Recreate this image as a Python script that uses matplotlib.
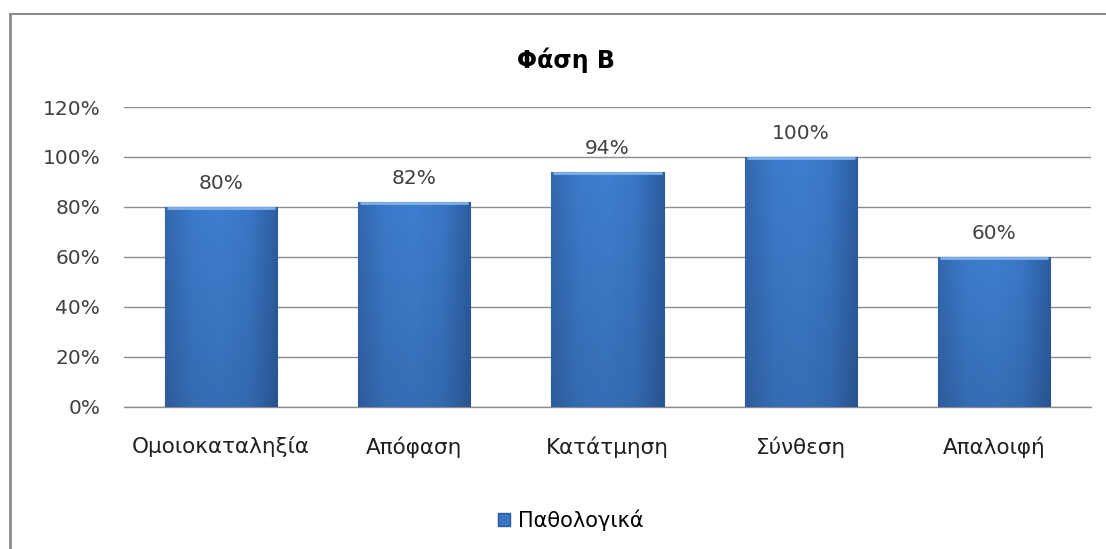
import matplotlib.pyplot as plt
import numpy as np
from matplotlib.colors import LinearSegmentedColormap
from matplotlib.lines import Line2D
from matplotlib.patches import Patch

categories = ['Ομοιοκαταληξία', 'Απόφαση', 'Κατάτμηση', 'Σύνθεση', 'Απαλοιφή']
values = [80, 82, 94, 100, 60]
series_name = 'Παθολογικά'
yticks = [0, 20, 40, 60, 80, 100, 120]

plt.rcParams['font.family'] = ['DejaVu Sans']

fig = plt.figure(figsize=(11.06, 5.49), dpi=100)
ax = fig.add_axes([0.1121, 0.2587, 0.8743, 0.5464])

x = np.arange(len(categories))
bars = ax.bar(x, values, width=0.58, color='#3A76C4', edgecolor='#2B5A96',
              linewidth=0.8, zorder=3, label=series_name)

# soft horizontal shading inside each bar
cmap = LinearSegmentedColormap.from_list(
    'bar', ['#3468AE', '#3C7BCB', '#3F7FCF', '#3A77C6', '#2D5E9F'])
grad = np.linspace(0, 1, 200).reshape(1, -1)
vshade = np.zeros((100, 1, 4))
vshade[..., 0:3] = [0.1, 0.2, 0.35]
vshade[..., 3] = np.linspace(0.22, 0, 100).reshape(-1, 1)
for b in bars:
    x0, w, h = b.get_x(), b.get_width(), b.get_height()
    im = ax.imshow(grad, cmap=cmap, aspect='auto', extent=(x0, x0 + w, 0, h),
                   zorder=3.5, interpolation='bicubic')
    im.set_clip_path(b)
    im2 = ax.imshow(vshade, aspect='auto', extent=(x0, x0 + w, 0, h),
                    origin='lower', zorder=3.6)
    im2.set_clip_path(b)
    ax.plot([x0 + 0.01, x0 + w - 0.01], [h - 0.6, h - 0.6], color='#7FB0EA',
            lw=2, zorder=3.7, solid_capstyle='butt')
    ax.text(x0 + w / 2, h + 5.5, f'{h:.0f}%', ha='center', va='bottom',
            fontsize=14.5, color='#404040')

ax.set_xlim(-0.5, len(categories) - 0.5)
ax.set_ylim(0, 120)
ax.set_yticks(yticks)
ax.set_yticklabels([f'{t}%' for t in yticks], fontsize=14.5, color='#404040')
ax.set_xticks(x)
ax.set_xticklabels(categories, fontsize=15.5, color='#202020')
ax.tick_params(axis='both', length=0)
ax.tick_params(axis='y', pad=17)
ax.tick_params(axis='x', pad=21)
ax.grid(axis='y', color='#8C8C8C', linewidth=1, zorder=0)
ax.axhline(0, color='#8C8C8C', linewidth=1, zorder=2, clip_on=False)
for s in ax.spines.values():
    s.set_visible(False)

fig.text(0.512, 0.891, 'Φάση Β', ha='center', va='center', fontsize=17,
         fontweight='bold', color='#000000')

handle = Patch(facecolor='#3A76C4', edgecolor='#2B5A96')
fig.legend([handle], [series_name], loc='center', bbox_to_anchor=(0.516, 0.052),
           frameon=False, fontsize=15, handlelength=0.6, handleheight=0.6,
           handletextpad=0.35)

# chart frame lines (top and left)
fig.add_artist(Line2D([0.009, 1.0], [0.975, 0.975], color='#8C8C8C', lw=1.5))
fig.add_artist(Line2D([0.009, 0.009], [0.0, 0.975], color='#8C8C8C', lw=2))

fig.savefig('out.png', dpi=100)
